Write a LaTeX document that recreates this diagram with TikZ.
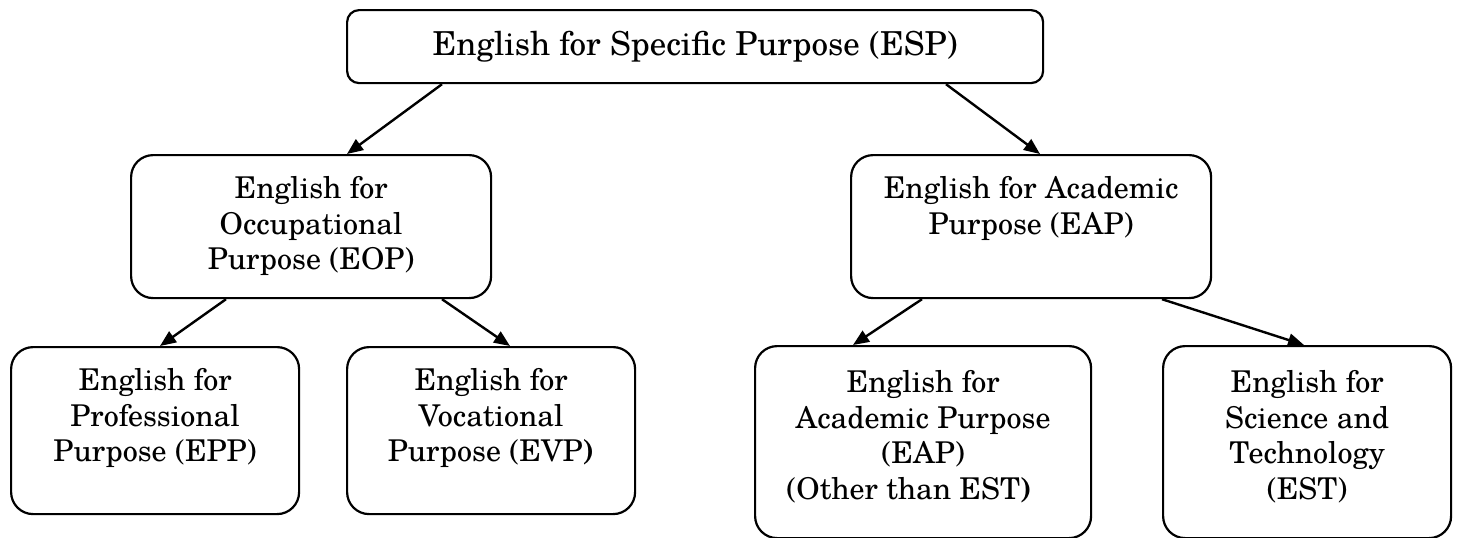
\documentclass[tikz,border=0pt]{standalone}
\usepackage{fontspec}
\setmainfont{texgyreschola}[Extension=.otf, UprightFont=*-regular, BoldFont=*-bold, ItalicFont=*-italic, BoldItalicFont=*-bolditalic]
\usetikzlibrary{arrows.meta}
\newcommand\boxtxt[4]{\parbox[c][#2][t]{#1}{\centering\vspace*{#3}\strut #4}}
\tikzset{
  boxnode/.style={draw, line width=2.2pt, rounded corners=22pt, inner sep=0pt, anchor=north west,
    font=\fontsize{30pt}{35.5pt}\selectfont},
  conn/.style={-{Triangle[length=16pt,width=13pt]}, line width=2.4pt}
}
\begin{document}
\begin{tikzpicture}[x=1pt,y=-1pt]
\useasboundingbox (0,0) rectangle (1457,538);
\node[boxnode, rounded corners=12pt, minimum width=696pt, minimum height=73pt,
  font=\fontsize{33pt}{38pt}\selectfont] (esp) at (346,9)
  {English for Specific Purpose (ESP)};
\node[boxnode] (eop) at (130,154) {\boxtxt{360pt}{143pt}{19pt}{English for\\Occupational\\Purpose (EOP)}};
\node[boxnode] (eap) at (850,154) {\boxtxt{360pt}{143pt}{19pt}{English for Academic\\Purpose (EAP)}};
\node[boxnode] (epp) at (10,346) {\boxtxt{288pt}{167pt}{19pt}{English for\\Professional\\Purpose (EPP)}};
\node[boxnode] (evp) at (346,346) {\boxtxt{288pt}{167pt}{19pt}{English for\\Vocational\\Purpose (EVP\textbf{)}}};
\node[boxnode] (eapb) at (754,345) {\boxtxt{336pt}{192pt}{22pt}{English for\\Academic Purpose\\(EAP)\\(Other than EST\textbf{)}\hspace*{28pt}}};
\node[boxnode] (est) at (1162,345) {\boxtxt{288pt}{192pt}{22pt}{English for\\Science and\\Technology\\(EST)}};
\draw[conn] ([xshift=96pt]esp.south west) -- ([xshift=217pt]eop.north west);
\draw[conn] ([xshift=600pt]esp.south west) -- ([xshift=190pt]eap.north west);
\draw[conn] ([xshift=96pt]eop.south west) -- ([xshift=150pt]epp.north west);
\draw[conn] ([xshift=312pt]eop.south west) -- ([xshift=164pt]evp.north west);
\draw[conn] ([xshift=72pt]eap.south west) -- ([xshift=99pt]eapb.north west);
\draw[conn] ([xshift=312pt]eap.south west) -- ([xshift=142pt]est.north west);
\end{tikzpicture}
\end{document}
